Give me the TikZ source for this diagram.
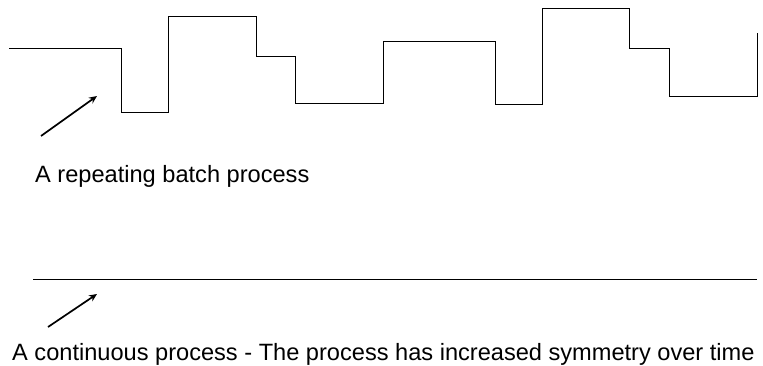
\documentclass[tikz,border=0pt]{standalone}
\usepackage{fontspec}
\setmainfont{Liberation Sans}
\usetikzlibrary{arrows.meta}
\begin{document}
\begin{tikzpicture}[x=1pt,y=-1pt,
  signal/.style={line width=1pt,black},
  pointer/.style={line width=1.7pt,black,-{Stealth[length=8pt,width=7pt]}},
  caption/.style={anchor=base west,inner sep=0pt,font=\fontsize{23.6}{28}\selectfont}]
\useasboundingbox (0,0) rectangle (763,366);
% batch process
\draw[signal] (9,49) -- (121,49) -- (121,113) -- (168,113) -- (168,17) -- (256,17) -- (256,57)
  -- (295,57) -- (295,104) -- (383,104) -- (383,42) -- (495,42) -- (495,105) -- (542,105)
  -- (542,9) -- (629,9) -- (629,49) -- (669,49) -- (669,97) -- (757,97) -- (757,33);
\coordinate (a1s) at (41,136);
\coordinate (a1e) at (97,96);
\draw[pointer] (a1s) -- (a1e);
\node[caption] (t1) at (35,183) {A repeating batch process};
% continuous process
\coordinate (c1) at (33,279);
\coordinate (c2) at (757,279);
\draw[signal] (c1) -- (c2);
\coordinate (a2s) at (48,327);
\coordinate (a2e) at (97,294);
\draw[pointer] (a2s) -- (a2e);
\node[caption] (t2) at (12,360.5) {A continuous process - The process has increased symmetry over time};
\end{tikzpicture}
\end{document}
